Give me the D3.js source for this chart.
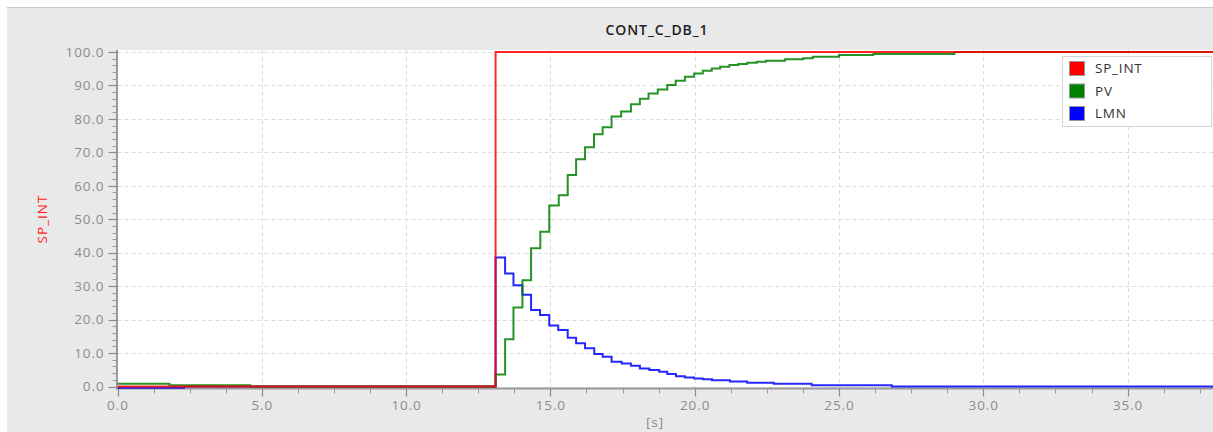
<!DOCTYPE html>
<html><head><meta charset="utf-8">
<script src="https://cdn.jsdelivr.net/npm/d3@7"></script>
<style>
html,body{margin:0;padding:0;background:#fff;}
svg{display:block;font-family:"Open Sans","Noto Sans",sans-serif;}
</style></head>
<body>
<svg id="c" width="1213" height="432"></svg>
<script>
// ---- data ----
const title = "CONT_C_DB_1";
const xLabel = "[s]";
const yLabel = "SP_INT";
const seriesNames = ["SP_INT", "PV", "LMN"];
const seriesColors = ["#ff0000", "#008000", "#0000ff"];
const xTicks = [0, 5, 10, 15, 20, 25, 30, 35];
const yTicks = [0, 10, 20, 30, 40, 50, 60, 70, 80, 90, 100];

// step series: [time, value] (value held until next time)
const spTime  = [0, 13.1, 38];
const spValue = [0, 100, 100];

const pvTime  = [0, 1.8, 4.6, 13.1, 13.43, 13.72, 14.03, 14.33, 14.65, 14.96, 15.29, 15.6, 15.89, 16.2, 16.51, 16.81, 17.12, 17.45, 17.79, 18.1, 18.4, 18.72, 19.05, 19.34, 19.66, 19.98, 20.28, 20.59, 20.88, 21.2, 21.51, 21.82, 22.15, 22.47, 23.13, 23.76, 24.09, 25.0, 26.19, 29.0, 38];
const pvValue = [0.8, 0.4, 0, 3.6, 14.1, 23.6, 31.8, 41.3, 46.3, 54.1, 57.2, 63.2, 67.9, 71.5, 75.4, 77.5, 80.7, 82.2, 84.4, 86.0, 87.6, 88.8, 90.1, 91.4, 92.6, 93.6, 94.4, 95.1, 95.6, 96.1, 96.4, 96.8, 97.1, 97.4, 97.8, 98.1, 98.6, 99.1, 99.4, 100, 100];

const lmnTime  = [0, 2.3, 13.1, 13.43, 13.72, 14.03, 14.33, 14.64, 14.96, 15.27, 15.6, 15.89, 16.2, 16.52, 16.81, 17.12, 17.47, 17.79, 18.1, 18.43, 18.77, 19.05, 19.35, 19.66, 19.98, 20.28, 20.6, 21.22, 21.82, 22.74, 24.05, 26.83, 38];
const lmnValue = [-0.35, 0, 38.6, 33.8, 30.3, 27.4, 22.9, 21.4, 18.2, 16.9, 14.6, 12.9, 11.4, 9.7, 8.9, 7.4, 6.9, 6.2, 5.4, 4.9, 4.4, 3.7, 3.1, 2.7, 2.4, 2.2, 1.9, 1.5, 1.1, 0.8, 0.4, 0, 0];

// ---- layout ----
const W = 1213, H = 432;
const svg = d3.select("#c");
const plotL = 117.5, plotR = 1214.2, plotT = 52, plotB = 386.5;
const x = d3.scaleLinear().domain([0, 38]).range([plotL, plotR]);
const y = d3.scaleLinear().domain([0, 100]).range([plotB, plotT]);

// outer background
svg.append("rect").attr("x", 0).attr("y", 0).attr("width", W).attr("height", H).attr("fill", "#ffffff");
svg.append("rect").attr("x", 7).attr("y", 7).attr("width", W - 7).attr("height", H - 7).attr("fill", "#e9e9e9");
svg.append("line").attr("x1", 7).attr("x2", W).attr("y1", 7.5).attr("y2", 7.5).attr("stroke", "#c8c8c8").attr("stroke-width", 1);

// plot background
svg.append("rect").attr("x", plotL).attr("y", plotT - 2).attr("width", W - plotL).attr("height", plotB - plotT + 3).attr("fill", "#ffffff");

// grid
const grid = svg.append("g");
grid.selectAll("line.gy").data(yTicks).join("line")
  .attr("x1", plotL).attr("x2", W).attr("y1", d => Math.round(y(d)) + 0.5).attr("y2", d => Math.round(y(d)) + 0.5)
  .attr("stroke", "#dcdcdc").attr("stroke-dasharray", "4,3").attr("stroke-width", 1);
grid.selectAll("line.gx").data(xTicks.filter(d => d > 0)).join("line")
  .attr("x1", d => Math.round(x(d)) + 0.5).attr("x2", d => Math.round(x(d)) + 0.5).attr("y1", plotT - 2).attr("y2", plotB + 1)
  .attr("stroke", "#dcdcdc").attr("stroke-dasharray", "4,3").attr("stroke-width", 1);

// axes
const axisColor = "#9a9a9a";
const tickFont = 13.5, tickSpacing = 0.9;
const yMinor = d3.range(0, 100.01, 2);
const xMinor = d3.range(0, 38.01, 1.25);
const axG = svg.append("g");
// y axis line
axG.append("line").attr("x1", plotL - 0.5).attr("x2", plotL - 0.5).attr("y1", plotT - 2).attr("y2", plotB + 3).attr("stroke", axisColor).attr("stroke-width", 2);
axG.selectAll("line.ymi").data(yMinor).join("line")
  .attr("x1", plotL - 5).attr("x2", plotL).attr("y1", d => Math.round(y(d)) + 0.5).attr("y2", d => Math.round(y(d)) + 0.5)
  .attr("stroke", axisColor).attr("stroke-width", 1);
axG.selectAll("line.yma").data(yTicks).join("line")
  .attr("x1", plotL - 9).attr("x2", plotL).attr("y1", d => Math.round(y(d)) + 0.5).attr("y2", d => Math.round(y(d)) + 0.5)
  .attr("stroke", "#8a8a8a").attr("stroke-width", 1.2);
axG.selectAll("text.yl").data(yTicks).join("text")
  .attr("x", plotL - 13).attr("y", d => y(d)).attr("dy", "0.35em").attr("text-anchor", "end")
  .attr("font-size", tickFont).attr("letter-spacing", tickSpacing).attr("fill", "#8c8c8c").text(d => d3.format(".1f")(d));
// x axis line
const xAxY = plotB + 2;
axG.append("line").attr("x1", plotL - 1.5).attr("x2", W).attr("y1", xAxY).attr("y2", xAxY).attr("stroke", axisColor).attr("stroke-width", 2);
axG.selectAll("line.xmi").data(xMinor).join("line")
  .attr("x1", d => Math.round(x(d)) + 0.5).attr("x2", d => Math.round(x(d)) + 0.5).attr("y1", xAxY).attr("y2", xAxY + 5)
  .attr("stroke", axisColor).attr("stroke-width", 1);
axG.selectAll("line.xma").data(xTicks).join("line")
  .attr("x1", d => Math.round(x(d)) + 0.5).attr("x2", d => Math.round(x(d)) + 0.5).attr("y1", xAxY).attr("y2", xAxY + 8)
  .attr("stroke", "#8a8a8a").attr("stroke-width", 1.2);
axG.selectAll("text.xl").data(xTicks).join("text")
  .attr("x", d => x(d) + tickSpacing / 2).attr("y", 410).attr("text-anchor", "middle")
  .attr("font-size", tickFont).attr("letter-spacing", tickSpacing).attr("fill", "#8c8c8c").text(d => d3.format(".1f")(d));

// titles
svg.append("text").attr("x", 657).attr("y", 35).attr("text-anchor", "middle")
  .attr("font-size", 14).attr("letter-spacing", 0.9).attr("font-weight", 600).attr("fill", "#222").text(title);
svg.append("text").attr("x", 655).attr("y", 427).attr("text-anchor", "middle")
  .attr("font-size", tickFont).attr("letter-spacing", tickSpacing).attr("fill", "#8c8c8c").text(xLabel);
svg.append("text").attr("transform", "translate(47,219) rotate(-90)").attr("text-anchor", "middle")
  .attr("font-size", 13.5).attr("letter-spacing", 1).attr("fill", "#ff2020").text(yLabel);

// series lines
const clip = svg.append("defs").append("clipPath").attr("id", "pc");
clip.append("rect").attr("x", plotL).attr("y", plotT - 4).attr("width", W - plotL).attr("height", plotB - plotT + 8);
const line = d3.line().x(d => x(d[0])).y(d => y(d[1])).curve(d3.curveStepAfter);
const series = [
  {name: "LMN", t: lmnTime, v: lmnValue, c: seriesColors[2]},
  {name: "PV", t: pvTime, v: pvValue, c: seriesColors[1]},
  {name: "SP_INT", t: spTime, v: spValue, c: seriesColors[0]}
];
const lg = svg.append("g").attr("clip-path", "url(#pc)");
series.forEach(s => {
  const pts = s.t.map((t, i) => [t, s.v[i]]);
  lg.append("path").attr("d", line(pts)).attr("fill", "none")
    .attr("stroke", s.c).attr("stroke-width", 2).attr("stroke-opacity", 0.85);
});

// legend
const leg = svg.append("g");
leg.append("rect").attr("x", 1062.5).attr("y", 56.5).attr("width", 149).attr("height", 70)
  .attr("fill", "#fff").attr("stroke", "#d4d4d4").attr("stroke-width", 1);
seriesNames.forEach((n, i) => {
  const cy = 68.5 + i * 22.5;
  leg.append("rect").attr("x", 1069.5).attr("y", cy - 7).attr("width", 15).attr("height", 14)
    .attr("fill", seriesColors[i]).attr("stroke", "#999").attr("stroke-width", 1);
  leg.append("text").attr("x", 1095).attr("y", cy).attr("dy", "0.36em")
    .attr("font-size", 13.5).attr("letter-spacing", 0.8).attr("fill", "#333").text(n);
});
</script>
</body></html>
